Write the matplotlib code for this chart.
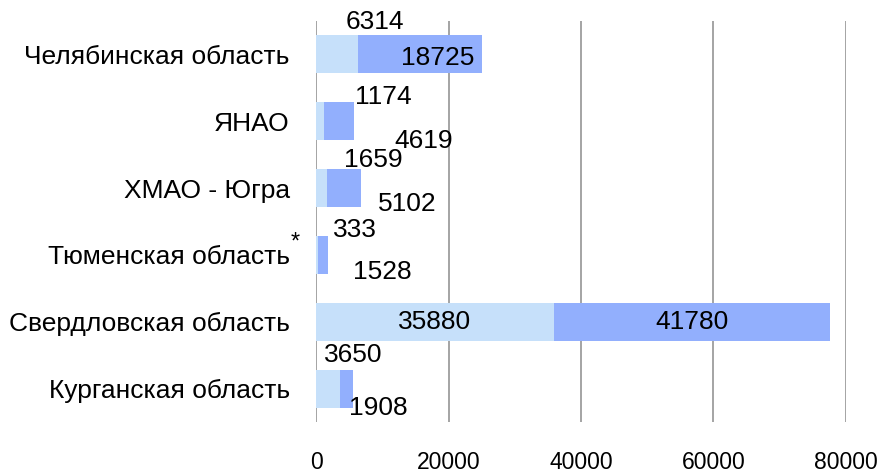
import matplotlib.pyplot as plt
from matplotlib import transforms

plt.rcParams['font.family'] = ['Liberation Sans', 'DejaVu Sans']

regions = ['Челябинская область', 'ЯНАО', 'ХМАО - Югра',
           'Тюменская область', 'Свердловская область', 'Курганская область']
series1 = [6314, 1174, 1659, 333, 35880, 3650]
series2 = [18725, 4619, 5102, 1528, 41780, 1908]
xticks = [0, 20000, 40000, 60000, 80000]

light = '#c6e0fa'
dark = '#92affd'

# label offsets in pixels: (anchor, dx, dy) - anchor 'end' = segment end, 'mid' = segment center
off1 = [('end', 17, 32), ('end', 60, 24), ('end', 46, 28), ('end', 37, 25), ('mid', 0, 0), ('end', 13, 34)]
off2 = [('end', -44, -4), ('end', 69, -20), ('end', 46, -16), ('end', 54, -17), ('mid', 0, 0), ('end', 25, -19)]

fig = plt.figure(figsize=(8.84, 4.75), dpi=100)
ax = fig.add_axes([0.3575, 0.1116, 0.5995, 0.8442])

y = list(range(len(regions)))
ax.barh(y, series1, height=0.57, color=light)
ax.barh(y, series2, left=series1, height=0.57, color=dark)

for i in y:
    a, dx, dy = off1[i]
    x = series1[i] / 2 if a == 'mid' else series1[i]
    ax.annotate(str(series1[i]), (x, i), xytext=(dx, dy), textcoords='offset pixels',
                ha='center', va='center', fontsize=19)
    a, dx, dy = off2[i]
    x = series1[i] + series2[i] / 2 if a == 'mid' else series1[i] + series2[i]
    ax.annotate(str(series2[i]), (x, i), xytext=(dx, dy), textcoords='offset pixels',
                ha='center', va='center', fontsize=19)

ax.set_xlim(0, 80000)
ax.set_ylim(len(regions) - 0.5, -0.5)
ax.set_yticks(y)
ax.set_yticklabels(regions, fontsize=19)
ax.set_xticks(xticks)
ax.set_xticklabels([str(t) for t in xticks], fontsize=16.5)
ax.tick_params(axis='y', length=0, pad=19)
ax.tick_params(axis='x', length=0, pad=21)
for s in ax.spines.values():
    s.set_visible(False)
ax.grid(axis='x', color='#8c8c8c', linewidth=1.1)
ax.set_axisbelow(True)

# asterisk after Тюменская область
tr = transforms.blended_transform_factory(ax.transAxes, ax.transData)
ax.annotate('*', (-0.047, 3), xycoords=tr, xytext=(0, 12), textcoords='offset pixels',
            fontsize=17, ha='left', va='center', annotation_clip=False)

fig.savefig('out.png', dpi=100)
